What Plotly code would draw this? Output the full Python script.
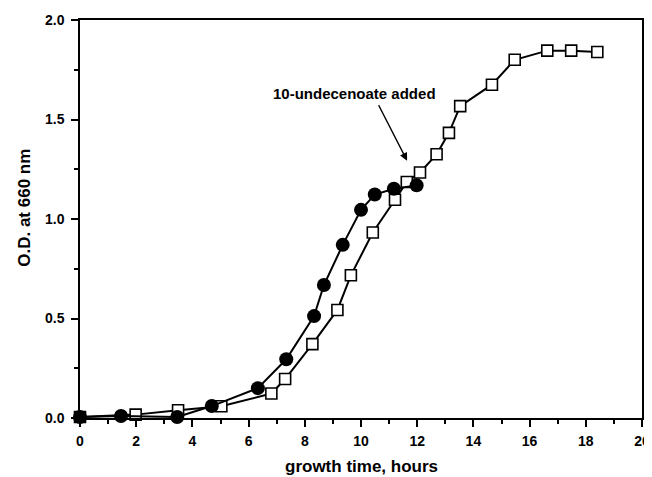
import plotly.graph_objects as go

# Filled circles series
circle_t = [0, 1.46, 3.46, 4.69, 6.33, 7.34, 8.33, 8.68, 9.35, 10.0, 10.49, 11.17, 11.98]
circle_od = [0.005, 0.01, 0.005, 0.06, 0.15, 0.295, 0.512, 0.668, 0.87, 1.046, 1.123, 1.152, 1.169]

# Open squares series
square_t = [0, 1.98, 3.49, 5.03, 6.81, 7.30, 8.27, 9.16, 9.64, 10.42, 11.21, 11.63, 12.10,
            12.69, 13.13, 13.53, 14.66, 15.47, 16.63, 17.48, 18.41]
square_od = [0.005, 0.017, 0.039, 0.059, 0.123, 0.196, 0.371, 0.543, 0.717, 0.932, 1.097, 1.186,
             1.234, 1.325, 1.433, 1.567, 1.675, 1.80, 1.846, 1.846, 1.839]

x_ticks = [0, 2, 4, 6, 8, 10, 12, 14, 16, 18, 20]
y_ticks = [0.0, 0.5, 1.0, 1.5, 2.0]
y_tick_labels = ["0.0", "0.5", "1.0", "1.5", "2.0"]

x_title = "growth time, hours"
y_title = "O.D. at 660 nm"
annot_text = "10-undecenoate added"
arrow_tail = (10.6, 1.58)
arrow_tip = (11.64, 1.293)
label_pos = (9.78, 1.63)

FONT = "Arial, Liberation Sans, sans-serif"

fig = go.Figure()
fig.add_trace(go.Scatter(
    x=square_t, y=square_od, mode="lines+markers",
    line=dict(color="black", width=2),
    marker=dict(symbol="square", size=11, color="white", line=dict(color="black", width=1.6)),
    cliponaxis=False, showlegend=False))
fig.add_trace(go.Scatter(
    x=circle_t, y=circle_od, mode="lines+markers",
    line=dict(color="black", width=2),
    marker=dict(symbol="circle", size=14, color="black", line=dict(color="black", width=0)),
    cliponaxis=False, showlegend=False))

fig.add_annotation(x=label_pos[0], y=label_pos[1], xref="x", yref="y", text=annot_text,
                   showarrow=False, font=dict(family=FONT, size=15, color="black", weight="bold"))
fig.add_annotation(x=arrow_tip[0], y=arrow_tip[1], ax=arrow_tail[0], ay=arrow_tail[1],
                   xref="x", yref="y", axref="x", ayref="y", text="",
                   showarrow=True, arrowhead=2, arrowsize=1.2, arrowwidth=1.3,
                   arrowcolor="black", standoff=0, startstandoff=0)

# axis titles placed as paper annotations
fig.add_annotation(x=0.5, y=-0.123, xref="paper", yref="paper", text=x_title,
                   showarrow=False, xanchor="center", yanchor="middle",
                   font=dict(family=FONT, size=17, color="black", weight="bold"))
fig.add_annotation(x=-0.098, y=0.528, xref="paper", yref="paper", text=y_title, textangle=-90,
                   showarrow=False, xanchor="center", yanchor="middle",
                   font=dict(family=FONT, size=17, color="black", weight="bold"))

axis_common = dict(
    showline=True, linecolor="black", linewidth=1.5, mirror=True,
    ticks="outside", ticklen=7, tickwidth=1.5, tickcolor="black",
    showgrid=False, zeroline=False, automargin=False,
    tickfont=dict(family=FONT, size=14, color="black", weight="bold"),
)

fig.update_xaxes(range=[0, 20], tickvals=x_ticks, ticklabelstandoff=2,
                 minor=dict(dtick=1, ticks="outside", ticklen=4, tickwidth=1.5, tickcolor="black", showgrid=False),
                 **axis_common)
fig.update_yaxes(range=[0, 2], tickvals=y_ticks, ticktext=y_tick_labels, ticklabelstandoff=4,
                 minor=dict(dtick=0.25, ticks="outside", ticklen=4, tickwidth=1.5, tickcolor="black", showgrid=False),
                 **axis_common)

# page body has an 8px margin, so the figure is sized/offset to land the plot area correctly
fig.update_layout(
    width=644, height=469,
    margin=dict(l=72, r=10, t=12, b=59),
    plot_bgcolor="white", paper_bgcolor="white",
    font=dict(family=FONT, color="black"),
)

fig.write_html("out.html")
